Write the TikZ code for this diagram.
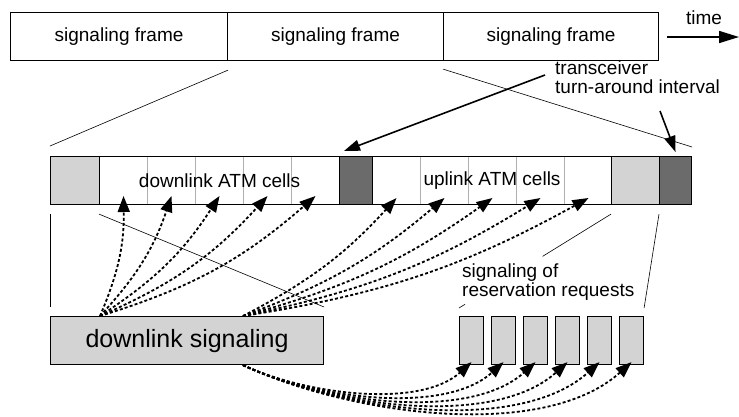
\documentclass[tikz,border=0pt]{standalone}
\usepackage{fontspec}
\setmainfont{Liberation Sans}
\usetikzlibrary{arrows.meta,calc}
\definecolor{lgray}{HTML}{D3D3D3}
\definecolor{dgray}{HTML}{6B6B6B}
\definecolor{divgray}{HTML}{B0B0B0}
\tikzset{
 lbl/.style={font=\fontsize{19}{17}\selectfont, inner sep=0pt},
 lbl2/.style={font=\fontsize{19}{19}\selectfont, inner sep=0pt, anchor=north west, align=left},
 blk/.style={draw, line width=1.1pt, minimum height=48pt, inner sep=0pt, anchor=north west},
 cell/.style={draw=divgray, line width=1pt, minimum width=48pt, minimum height=48pt, inner sep=0pt, anchor=north west},
 thinl/.style={line width=0.6pt},
 da/.style={line width=1.8pt, dash pattern=on 3pt off 2.2pt, -{Triangle[length=16pt,width=12pt]}},
 sa/.style={line width=1.6pt, -{Triangle[length=16pt,width=11pt]}},
}
\begin{document}
\begin{tikzpicture}[x=1pt,y=-1pt]
\useasboundingbox (0,0) rectangle (739,416);
% top frames
\node[blk, lbl, minimum width=217pt, minimum height=48pt] (f1) at (10,12) {signaling frame};
\node[blk, lbl, minimum width=216pt, minimum height=48pt] (f2) at (227,12) {signaling frame};
\node[blk, lbl, minimum width=215pt, minimum height=48pt] (f3) at (443,12) {signaling frame};
\node[lbl] (time) at (704,18) {time};
\coordinate (t0) at (667,37);
\coordinate (t1) at (739,37);
\draw[line width=1.6pt, -{Triangle[length=20pt,width=12pt]}] (t0) -- (t1);
% middle bar
\node[blk, fill=lgray, minimum width=49pt] (p1) at (50,156) {};
\foreach \i in {1,...,5} \node[cell] (dl\i) at ({99+48*(\i-1)},156) {};
\node[blk, lbl, minimum width=240pt, minimum height=48pt] (dl) at (99,156) {downlink ATM cells};
\node[blk, fill=dgray, minimum width=33pt] (d1) at (339,156) {};
\foreach \i in {1,...,5} \node[cell] (ul\i) at ({372+48*(\i-1)},156) {};
\node[blk, lbl, minimum width=239pt, minimum height=48pt] (ul) at (372,156) {uplink ATM cells};
\node[blk, fill=lgray, minimum width=48pt] (p2) at (611,156) {};
\node[blk, fill=dgray, minimum width=32pt] (d2) at (659,156) {};
% zoom lines from frame
\draw[thinl] ([yshift=-9pt]f1.south east) -- ([yshift=10pt]p1.north west);
\draw[thinl] ([yshift=-8pt]f3.south west) -- ([yshift=9pt]d2.north east);
% transceiver label
\node[lbl2] (tr) at (555,61) {transceiver\\turn-around interval};
\coordinate (tra) at (545,75);
\coordinate (trb) at (660,111);
\draw[sa] (tra) -- ([xshift=5pt,yshift=5pt]d1.north west);
\draw[sa] (trb) -- ([yshift=4pt]d2.north);
% lower boxes
\node[blk, fill=lgray, minimum width=273pt, minimum height=48pt, font=\fontsize{25}{25}\selectfont] (ds) at (50,316) {downlink signaling};
\foreach \i in {1,...,6} \node[blk, fill=lgray, minimum width=24pt] (rq\i) at ({459+32*(\i-1)},316) {};
% zoom lines below bar
\draw[thinl] ([yshift=-9pt]p1.south west) -- ([yshift=9pt]ds.north west);
\draw[thinl] ([yshift=-9pt]dl.south west) -- ([yshift=9pt]ds.north east);
\coordinate (ra) at ([yshift=-9pt]p2.south west);
\coordinate (rb) at ([yshift=8pt]rq1.north west);
\draw[thinl] (ra) -- ($(ra)!0.45!(rb)$);
\draw[thinl] ($(ra)!0.96!(rb)$) -- (rb);
\draw[thinl] ([yshift=-9pt]d2.south west) -- ([yshift=8pt]rq6.north east);
\node[lbl2] (sr) at (462,264) {signaling of\\reservation requests};
% dashed arrows
\coordinate (sa) at ([xshift=50pt]ds.north west);
\coordinate (sb) at ([xshift=193pt]ds.north west);
\coordinate (sc) at ([xshift=193pt]ds.south west);
\foreach \i in {1,...,5} \draw[da] (sa) to[bend right=12] ([yshift=9pt]dl\i.south);
\foreach \i in {1,...,5} \draw[da] (sb) to[bend right=10] ([yshift=7pt]ul\i.south);
\foreach \i in {1,...,6} \draw[da] (sc) to[out=-25,in=222,looseness=0.78] ([yshift=3pt]rq\i.south);
\end{tikzpicture}
\end{document}
